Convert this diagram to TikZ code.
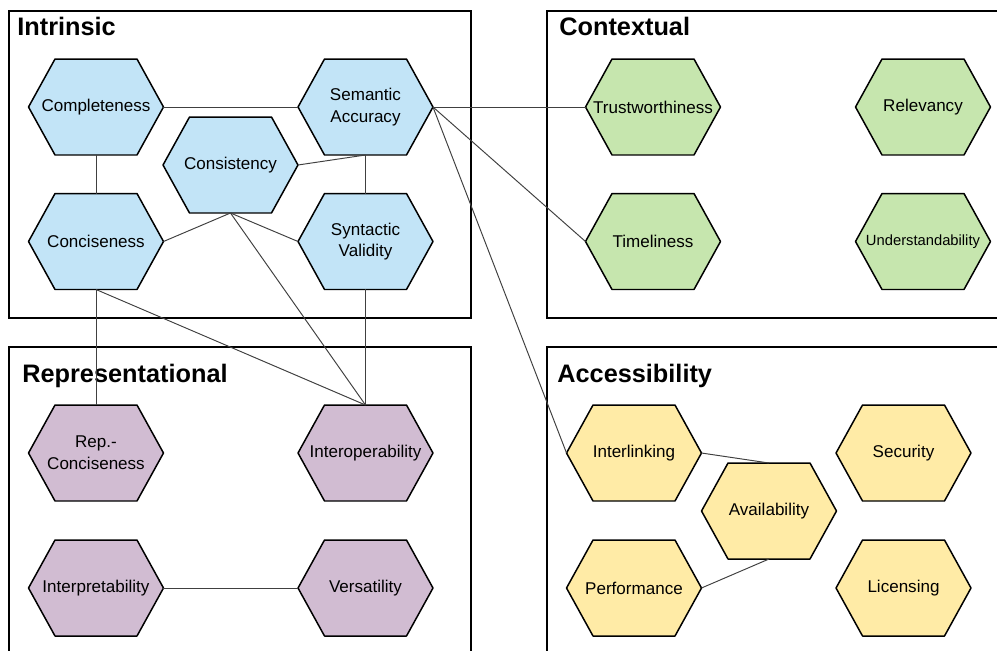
\documentclass[tikz,border=0pt]{standalone}
\usepackage{fontspec}
\setmainfont{Liberation Sans}
\usepackage{tikz}
\usetikzlibrary{backgrounds}
\definecolor{hexblue}{HTML}{C2E4F7}
\definecolor{hexgreen}{HTML}{C6E6AE}
\definecolor{hexpurple}{HTML}{D1BCD2}
\definecolor{hexyellow}{HTML}{FFEBA6}
\definecolor{linkgray}{HTML}{404040}
\tikzset{
  hexcell/.style={minimum width=2.7cm, minimum height=1.92cm, inner sep=0pt, outer sep=0pt, align=center, font=\fontsize{9.7}{12.4}\selectfont},
  grouptitle/.style={anchor=base west, inner sep=0pt, font=\fontsize{14.4}{17}\selectfont\bfseries},
  frame/.style={draw=black, line width=0.9pt},
  hexline/.style={draw=black, line width=0.85pt, line join=round},
  link/.style={draw=linkgray, line width=0.55pt}
}

\begin{document}
\begin{tikzpicture}[x=0.02cm, y=-0.02cm]
\useasboundingbox (0,0) rectangle (997,650);
\clip (0,0) rectangle (997,650);

\draw[frame] (9,11) rectangle (471,318);
\draw[frame] (547,11) rectangle (1010,318);
\draw[frame] (9,347) rectangle (471,660);
\draw[frame] (547,347) rectangle (1010,660);

\node[grouptitle] (intrinsicT) at (17,35) {Intrinsic};
\node[grouptitle] (contextualT) at (559,35) {Contextual};
\node[grouptitle] (representT) at (22,382) {Representational};
\node[grouptitle] (accessT) at (557,382) {Accessibility};

\node[hexcell] (compl) at (96,107) {Completeness};
\node[hexcell] (seman) at (365.5,107) {Semantic\\Accuracy};
\node[hexcell] (consis) at (230.5,165) {Consistency};
\node[hexcell] (concis) at (96,241.5) {Conciseness};
\node[hexcell] (synt) at (365.5,241.5) {Syntactic\\Validity};

\node[hexcell] (trust) at (653,107) {Trustworthiness};
\node[hexcell] (relev) at (923,107) {Relevancy};
\node[hexcell] (timel) at (653,241.5) {Timeliness};
\node[hexcell, font=\fontsize{8.4}{10}\selectfont] (underst) at (923,241.5) {Understandability};

\node[hexcell] (repcon) at (96,453) {Rep.-\\Conciseness};
\node[hexcell] (interop) at (365.5,453) {Interoperability};
\node[hexcell] (interp) at (96,588) {Interpretability};
\node[hexcell] (versat) at (365.5,588) {Versatility};

\node[hexcell] (interl) at (634,453) {Interlinking};
\node[hexcell] (secur) at (903.5,453) {Security};
\node[hexcell] (avail) at (769,511) {Availability};
\node[hexcell] (perf) at (634,588) {Performance};
\node[hexcell] (licen) at (903.5,588) {Licensing};

\begin{scope}[on background layer]
\foreach \n/\c in {compl/hexblue, seman/hexblue, consis/hexblue, concis/hexblue, synt/hexblue,
    trust/hexgreen, relev/hexgreen, timel/hexgreen, underst/hexgreen,
    repcon/hexpurple, interop/hexpurple, interp/hexpurple, versat/hexpurple,
    interl/hexyellow, secur/hexyellow, avail/hexyellow, perf/hexyellow, licen/hexyellow}
  \filldraw[hexline, fill=\c] (\n.west) -- ([xshift=0.53cm]\n.north west) -- ([xshift=-0.53cm]\n.north east)
    -- (\n.east) -- ([xshift=-0.53cm]\n.south east) -- ([xshift=0.53cm]\n.south west) -- cycle;
\end{scope}

\draw[link] (compl.east) -- (seman.west);
\draw[link] (compl.south) -- (concis.north);
\draw[link] (seman.south) -- (synt.north);
\draw[link] (consis.east) -- (seman.south);
\draw[link] (concis.east) -- (consis.south);
\draw[link] (consis.south) -- (synt.west);
\draw[link] (consis.south) -- (interop.north);
\draw[link] (concis.south) -- (interop.north);
\draw[link] (concis.south) -- (repcon.north);
\draw[link] (synt.south) -- (interop.north);
\draw[link] (seman.east) -- (trust.west);
\draw[link] (seman.east) -- (timel.west);
\draw[link] (seman.east) -- (interl.west);
\draw[link] (interp.east) -- (versat.west);
\draw[link] (interl.east) -- (avail.north);
\draw[link] (perf.east) -- (avail.south);
\end{tikzpicture}
\end{document}
